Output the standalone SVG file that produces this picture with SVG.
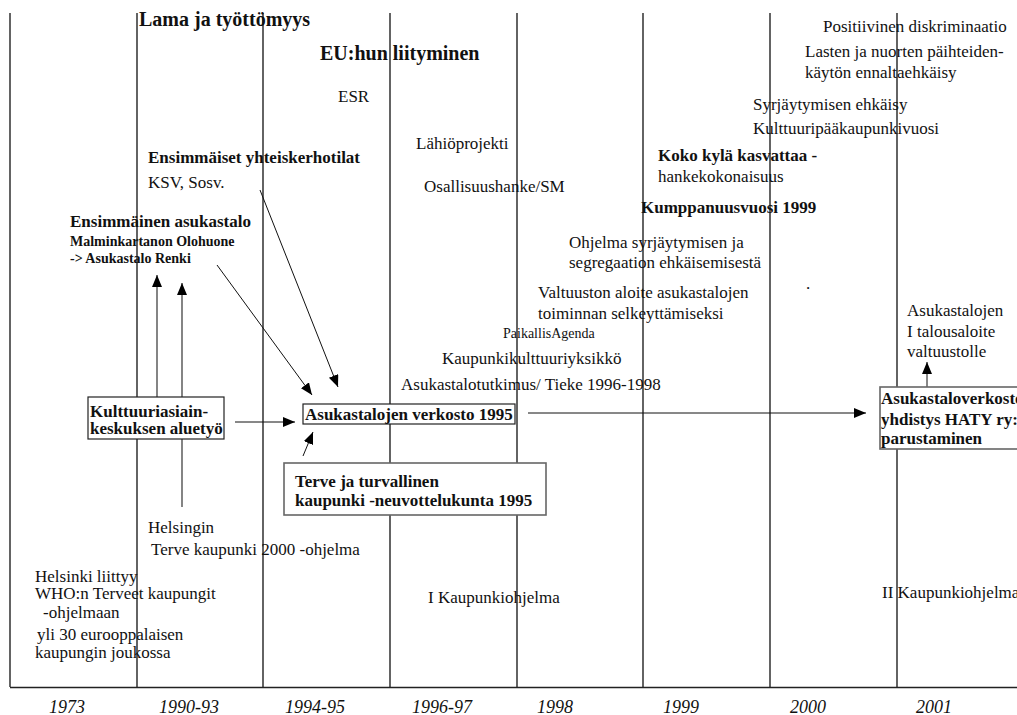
<svg xmlns="http://www.w3.org/2000/svg" width="1017" height="715" viewBox="0 0 1017 715">
  <style>
    text { font-family: "Liberation Serif", "Times New Roman", serif; fill: #111; }
    .r { font-size: 17px; }
    .b { font-size: 17px; font-weight: bold; }
    .big { font-size: 20px; font-weight: bold; }
    .sb { font-size: 14px; font-weight: bold; }
    .sm { font-size: 14px; }
    .yr { font-size: 18px; font-style: italic; }
    .period { stroke: #222; stroke-width: 1.4; fill: none; }
    .box { fill: #fff; stroke: #222; stroke-width: 1.2; }
    .boxg { fill: #fff; stroke: #666; stroke-width: 1.6; }
    .arr { stroke: #111; stroke-width: 1; fill: none; marker-end: url(#head); }
    .arrg { stroke: #666; stroke-width: 1.6; fill: none; marker-end: url(#head); }
  </style>
  <defs>
    <marker id="head" markerUnits="userSpaceOnUse" markerWidth="13" markerHeight="11" refX="12" refY="5" orient="auto">
      <path d="M0,0 L12,5 L0,10 z" fill="#000"/>
    </marker>
  </defs>

  <rect width="1017" height="715" fill="#fff"/>

  <!-- period dividers and time axis -->
  <g id="axis">
    <line class="period" x1="10" y1="13" x2="10" y2="687"/>
    <line class="period" x1="137" y1="13" x2="137" y2="687"/>
    <line class="period" x1="263" y1="13" x2="263" y2="687"/>
    <line class="period" x1="390" y1="13" x2="390" y2="687"/>
    <line class="period" x1="517" y1="13" x2="517" y2="687"/>
    <line class="period" x1="643" y1="13" x2="643" y2="687"/>
    <line class="period" x1="770" y1="13" x2="770" y2="687"/>
    <line class="period" x1="897" y1="13" x2="897" y2="687"/>
    <line class="period" x1="10" y1="687.5" x2="1017" y2="687.5"/>
    <text class="yr" x="67" y="713" text-anchor="middle">1973</text>
    <text class="yr" x="189" y="713" text-anchor="middle">1990-93</text>
    <text class="yr" x="315" y="713" text-anchor="middle">1994-95</text>
    <text class="yr" x="442" y="713" text-anchor="middle">1996-97</text>
    <text class="yr" x="555" y="713" text-anchor="middle">1998</text>
    <text class="yr" x="681" y="713" text-anchor="middle">1999</text>
    <text class="yr" x="808" y="713" text-anchor="middle">2000</text>
    <text class="yr" x="934" y="713" text-anchor="middle">2001</text>
  </g>

  <!-- connectors -->
  <g id="connectors">
    <line class="arrg" x1="157" y1="398" x2="157" y2="275"/>
    <line class="arrg" x1="182" y1="507" x2="182" y2="283"/>
    <line class="arr" x1="217" y1="265" x2="312" y2="395"/>
    <line class="arr" x1="260" y1="190" x2="338" y2="387"/>
    <line class="arr" x1="235" y1="422" x2="295" y2="422"/>
    <line class="arr" x1="303" y1="456" x2="313" y2="432"/>
    <line class="arr" x1="528" y1="413" x2="866" y2="413"/>
    <line class="arr" x1="927" y1="387" x2="927" y2="362"/>
  </g>

  <!-- headline events -->
  <g id="n-lama"><text class="big" x="139" y="26">Lama ja työttömyys</text></g>
  <g id="n-eu"><text class="big" x="320" y="60">EU:hun liityminen</text></g>
  <g id="n-esr"><text class="r" x="338" y="102">ESR</text></g>
  <g id="n-lahio"><text class="r" x="416" y="149">Lähiöprojekti</text></g>
  <g id="n-osallisuus"><text class="r" x="424" y="192">Osallisuushanke/SM</text></g>

  <g id="n-kerhotilat">
    <text class="b" x="148" y="163">Ensimmäiset yhteiskerhotilat</text>
    <text class="r" x="148" y="188">KSV, Sosv.</text>
  </g>

  <g id="n-asukastalo">
    <text class="b" x="70" y="227">Ensimmäinen asukastalo</text>
    <text class="sb" x="70" y="246">Malminkartanon Olohuone</text>
    <text class="sb" x="70" y="263">-&gt; Asukastalo Renki</text>
  </g>

  <g id="n-kokokyla">
    <text class="b" x="658" y="161">Koko kylä kasvattaa -</text>
    <text class="r" x="658" y="182">hankekokonaisuus</text>
  </g>
  <g id="n-kumppanuus"><text class="b" x="641" y="213">Kumppanuusvuosi 1999</text></g>

  <g id="n-positiivinen"><text class="r" x="823" y="32">Positiivinen diskriminaatio</text></g>
  <g id="n-lasten">
    <text class="r" x="805" y="57">Lasten ja nuorten päihteiden-</text>
    <text class="r" x="805" y="78">käytön ennaltaehkäisy</text>
  </g>
  <g id="n-syrjaytyminen"><text class="r" x="753" y="110">Syrjäytymisen ehkäisy</text></g>
  <g id="n-kulttuuripk"><text class="r" x="753" y="134">Kulttuuripääkaupunkivuosi</text></g>

  <g id="n-ohjelma">
    <text class="r" x="569" y="248">Ohjelma syrjäytymisen ja</text>
    <text class="r" x="569" y="268">segregaation ehkäisemisestä</text>
  </g>
  <g id="n-dot"><text class="r" x="806" y="289">.</text></g>
  <g id="n-valtuusto">
    <text class="r" x="538" y="298">Valtuuston aloite asukastalojen</text>
    <text class="r" x="538" y="319">toiminnan selkeyttämiseksi</text>
  </g>
  <g id="n-agenda"><text class="sm" x="503" y="338">PaikallisAgenda</text></g>
  <g id="n-kaupunkikulttuuri"><text class="r" x="442" y="364">Kaupunkikulttuuriyksikkö</text></g>
  <g id="n-tutkimus"><text class="r" x="401" y="390">Asukastalotutkimus/ Tieke 1996-1998</text></g>

  <g id="n-talousaloite">
    <text class="r" x="907" y="316">Asukastalojen</text>
    <text class="r" x="907" y="337">I talousaloite</text>
    <text class="r" x="907" y="357">valtuustolle</text>
  </g>

  <!-- boxed nodes -->
  <g id="n-aluetyo">
    <rect class="box" x="88" y="397" width="136" height="42"/>
    <text class="b" x="90" y="417">Kulttuuriasiain-</text>
    <text class="b" x="90" y="434">keskuksen aluetyö</text>
  </g>

  <g id="n-verkosto">
    <rect class="box" x="303" y="404" width="212" height="20"/>
    <text class="b" x="305" y="420">Asukastalojen verkosto 1995</text>
  </g>

  <g id="n-neuvottelukunta">
    <rect class="boxg" x="284" y="463" width="262" height="52"/>
    <text class="b" x="295" y="487">Terve ja turvallinen</text>
    <text class="b" x="295" y="506">kaupunki -neuvottelukunta 1995</text>
  </g>

  <g id="n-haty">
    <rect class="boxg" x="880" y="387" width="145" height="62"/>
    <text class="b" x="881" y="404">Asukastaloverkoston</text>
    <text class="b" x="881" y="425">yhdistys HATY ry:n</text>
    <text class="b" x="881" y="444">parustaminen</text>
  </g>

  <!-- lower programme notes -->
  <g id="n-terve2000">
    <text class="r" x="148" y="533">Helsingin</text>
    <text class="r" x="151" y="555">Terve kaupunki 2000 -ohjelma</text>
  </g>
  <g id="n-who">
    <text class="r" x="35" y="582">Helsinki liittyy</text>
    <text class="r" x="35" y="599">WHO:n Terveet kaupungit</text>
    <text class="r" x="43" y="618">-ohjelmaan</text>
    <text class="r" x="37" y="640">yli 30 eurooppalaisen</text>
    <text class="r" x="35" y="658">kaupungin joukossa</text>
  </g>
  <g id="n-kaupunkiohjelma1"><text class="r" x="428" y="603">I Kaupunkiohjelma</text></g>
  <g id="n-kaupunkiohjelma2"><text class="r" x="882" y="598">II Kaupunkiohjelma</text></g>
</svg>
